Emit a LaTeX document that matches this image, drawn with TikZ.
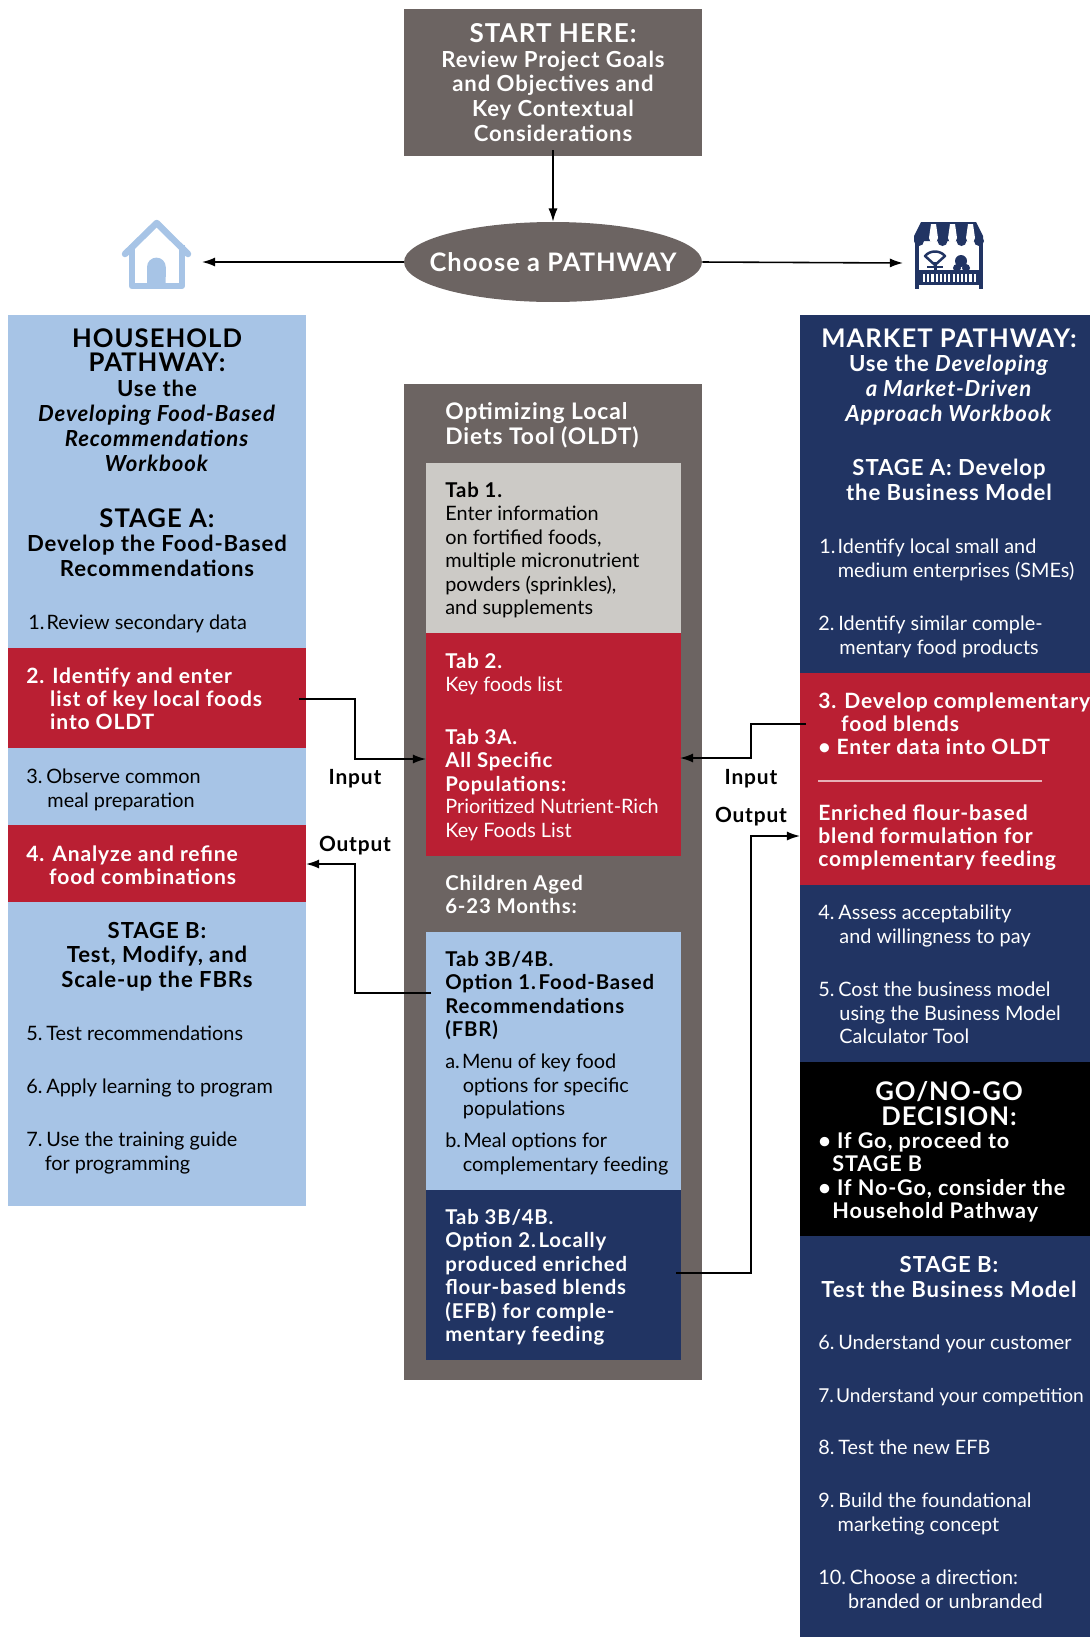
\documentclass[tikz,border=0pt]{standalone}
\usepackage{fontspec}
\setmainfont{Lato}[BoldFeatures={LetterSpace=4},BoldItalicFeatures={LetterSpace=4}]
\usetikzlibrary{shapes.geometric, arrows.meta}
\definecolor{slategrey}{HTML}{6C6462}
\definecolor{tabgrey}{HTML}{CCCAC6}
\definecolor{hhblue}{HTML}{A7C4E6}
\definecolor{mkblue}{HTML}{213463}
\definecolor{keyred}{HTML}{BA1F33}
\newcommand{\numgap}{\hspace{2.2pt}}
\begin{document}
\begin{tikzpicture}[x=0.02cm, y=-0.02cm]
\tikzset{band/.style={anchor=north west, inner sep=0pt, outer sep=0pt, draw=none},
  link/.style={draw, -{Latex[length=7.5pt, width=5.2pt]}, line width=0.9pt},
  bighead/.style={inner sep=0pt, align=center, anchor=north, font=\fontsize{14.6}{14}\selectfont\bfseries},
  midhead/.style={inner sep=0pt, align=center, anchor=north, font=\fontsize{12.6}{14.2}\selectfont\bfseries},
  boldline/.style={inner sep=0pt, align=left, anchor=north west, font=\fontsize{11.6}{13.35}\selectfont\bfseries},
  sidebold/.style={boldline, text=white, font=\fontsize{12}{13.35}\selectfont\bfseries},
  plainline/.style={inner sep=0pt, align=left, anchor=north west, font=\fontsize{11.3}{13.35}\selectfont},
  sidelabel/.style={inner sep=0pt, font=\fontsize{11.9}{13}\selectfont\bfseries}}
\useasboundingbox (0,0) rectangle (1090,1637);
\node[draw=none, fill=slategrey, text=white, minimum width=5.96cm, minimum height=2.94cm, inner sep=0pt, align=center, font=\fontsize{12.6}{14}\selectfont\bfseries] (startBox) at (553,82.5) {{\fontsize{14.8}{14}\selectfont START HERE:}\\Review Project Goals\\and Objectives and\\Key Contextual\\Considerations};
\node[ellipse, fill=slategrey, minimum width=5.96cm, minimum height=1.6cm, inner sep=0pt] (chooseOval) at (553,262) {};
\node[inner sep=0pt, text=white, font=\fontsize{14.5}{16}\selectfont\bfseries] (chooseText) at (553,262) {Choose a PATHWAY};
\node[band, fill=hhblue, minimum width=5.96cm, minimum height=6.66cm] (hhTop) at (8,315) {};
\node[band, fill=keyred, minimum width=5.96cm, minimum height=2cm] (hhRedA) at (8,648) {};
\node[band, fill=hhblue, minimum width=5.96cm, minimum height=1.54cm] (hhObserve) at (8,748) {};
\node[band, fill=keyred, minimum width=5.96cm, minimum height=1.54cm] (hhRedB) at (8,825) {};
\node[band, fill=hhblue, minimum width=5.96cm, minimum height=6.08cm] (hhRest) at (8,902) {};
\node[band, fill=mkblue, minimum width=5.8cm, minimum height=7.16cm] (mkTop) at (800,315) {};
\node[band, fill=keyred, minimum width=5.8cm, minimum height=4.24cm] (mkRed) at (800,673) {};
\node[band, fill=mkblue, minimum width=5.8cm, minimum height=3.54cm] (mkCost) at (800,885) {};
\node[band, fill=black, minimum width=5.8cm, minimum height=3.48cm] (mkGo) at (800,1062) {};
\node[band, fill=mkblue, minimum width=5.8cm, minimum height=8.02cm] (mkRest) at (800,1236) {};
\node[band, fill=slategrey, minimum width=5.96cm, minimum height=19.92cm] (oldtBox) at (404,384) {};
\node[band, fill=tabgrey, minimum width=5.1cm, minimum height=3.4cm] (tabOne) at (426,463) {};
\node[band, fill=keyred, minimum width=5.1cm, minimum height=4.46cm] (tabRed) at (426,633) {};
\node[band, fill=hhblue, minimum width=5.1cm, minimum height=5.16cm] (tabBlue) at (426,932) {};
\node[band, fill=mkblue, minimum width=5.1cm, minimum height=3.4cm] (tabNavy) at (426,1190) {};
\coordinate (houseEnd) at (202,262);
\coordinate (storeEnd) at (903,263);
\coordinate (hhOutA) at (299,699);
\coordinate (midL) at (355,759);
\coordinate (tabInL) at (426,759);
\coordinate (tabOutL) at (431,993);
\coordinate (midLo) at (355,864);
\coordinate (hhInB) at (306,864);
\coordinate (mkOutA) at (806,724);
\coordinate (midR) at (751,758);
\coordinate (tabInR) at (680,758);
\coordinate (tabOutR) at (676,1273);
\coordinate (midRo) at (751,836);
\coordinate (mkIn) at (800,836);
\draw[link] ([yshift=3.4pt]startBox.south) -- (chooseOval.north);
\draw[link] (chooseOval.west) -- (houseEnd);
\draw[link] (chooseOval.east) -- (storeEnd);
\draw[link] (hhOutA) -| (midL) -- (tabInL);
\draw[link] (tabOutL) -| (midLo) -- (hhInB);
\draw[link] (mkOutA) -| (midR) -- (tabInR);
\draw[link] (tabOutR) -| (midRo) -- (mkIn);
\draw[hhblue, line width=0.13cm, line cap=round, line join=round] (125,254) -- (156.7,223) -- (188,254);
\draw[hhblue, line width=0.12cm, line join=round] (131.7,245) -- (131.7,286) -- (182,286) -- (182,245);
\fill[hhblue] (147,286) -- (147,267) arc (180:360:9.4) -- (165.7,286) -- cycle;
\fill[mkblue] (921,222) -- (976,222) -- (983,236) -- (983,241) -- (914,241) -- (914,236) -- cycle;
\fill[mkblue] (919,241) circle (5);
\fill[mkblue] (942.5,241) circle (5);
\fill[mkblue] (961.5,241) circle (5);
\fill[mkblue] (979,241) circle (5);
\fill[white] (931,224) -- (936,224) -- (938,238) arc (0:180:4.5) -- cycle;
\fill[white] (950,224) -- (955,224) -- (957,238) arc (0:180:4.5) -- cycle;
\fill[white] (968,224) -- (973,224) -- (975,238) arc (0:180:4.5) -- cycle;
\fill[mkblue] (915,240) rectangle (919,289);
\fill[mkblue] (979,240) rectangle (983,289);
\fill[mkblue] (915,270) rectangle (983,285);
\draw[white, line width=0.16cm, dash pattern=on 1.2pt off 1.2pt] (923,278) -- (977,278);
\draw[mkblue, line width=0.05cm, line join=round] (925,256) .. controls (930,250) and (940,250) .. (945,256) -- (935,265) -- cycle;
\draw[mkblue, line width=0.06cm] (935,262) -- (935,271);
\draw[mkblue, line width=0.05cm] (927,267) -- (943,267);
\fill[mkblue] (961,261) circle (6);
\fill[mkblue] (957,268) circle (4);
\fill[mkblue] (966,268) circle (4);
\node[bighead] (hhTitle) at (157,328) {HOUSEHOLD\\PATHWAY:};
\node[midhead] (hhUse) at (157,380) {Use the\\\textit{Developing Food-Based}\\\textit{Recommendations}\\\textit{Workbook}};
\node[bighead] (hhStageA) at (157,508) {STAGE A:};
\node[midhead] (hhDevelop) at (157,535) {Develop the Food-Based\\Recommendations};
\node[plainline] (hhOne) at (28,615) {1.\hspace{1.2pt}Review secondary data};
\node[sidebold] (hhTwo) at (26,667) {2. Identify and enter\\\hspace*{13.6pt}list of key local foods\\\hspace*{13.6pt}into OLDT};
\node[plainline] (hhThree) at (26,769) {3.\numgap Observe common\\\hspace*{12pt}meal preparation};
\node[sidebold] (hhFour) at (26,845) {4. Analyze and refine\\\hspace*{13pt}food combinations};
\node[midhead] (hhStageB) at (157,921.5) {STAGE B:\\Test, Modify, and\\Scale-up the FBRs};
\node[plainline] (hhFive) at (26,1026) {5.\numgap Test recommendations};
\node[plainline] (hhSix) at (26,1079) {6.\numgap Apply learning to program};
\node[plainline] (hhSeven) at (26,1132) {7.\numgap Use the training guide\\\hspace*{10.5pt}for programming};
\node[midhead, align=left, anchor=north west, text=white, font=\fontsize{13}{14.2}\selectfont\bfseries] (oldtTitle) at (445,402) {Optimizing Local\\Diets Tool (OLDT)};
\node[boldline] (tabOneHead) at (445,482) {Tab 1.};
\node[plainline] (tabOneText) at (445,506) {Enter information\\on fortified foods,\\multiple micronutrient\\powders (sprinkles),\\and supplements};
\node[boldline, text=white] (tabTwoHead) at (445,653) {Tab 2.};
\node[plainline, text=white] (tabTwoText) at (445,677) {Key foods list};
\node[boldline, text=white] (tabThreeHead) at (445,729) {Tab 3A.\\All Specific\\Populations:};
\node[plainline, text=white] (tabThreeText) at (445,799) {Prioritized Nutrient-Rich\\Key Foods List};
\node[boldline, text=white] (childHead) at (445,875) {Children Aged\\6-23 Months:};
\node[boldline] (optOneHead) at (445,951) {Tab 3B/4B.\\Option 1.\hspace{1.5pt}Food-Based\\Recommendations\\(FBR)};
\node[plainline] (optOneA) at (445,1054) {a.\hspace{1.2pt}Menu of key food\\\hspace*{10pt}options for specific\\\hspace*{10pt}populations};
\node[plainline] (optOneB) at (445,1133) {b.\hspace{1.2pt}Meal options for\\\hspace*{10pt}complementary feeding};
\node[boldline, text=white] (optTwoHead) at (445,1209) {Tab 3B/4B.\\Option 2.\hspace{1.5pt}Locally\\produced enriched\\flour-based blends\\(EFB) for comple-\\mentary feeding};
\node[bighead, text=white] (mkTitle) at (949,329) {MARKET PATHWAY:};
\node[midhead, text=white] (mkUse) at (949,355) {Use the \textit{Developing}\\\textit{a Market-Driven}\\\textit{Approach Workbook}};
\node[midhead, text=white] (mkStageA) at (949,459) {STAGE A: Develop\\the Business Model};
\node[plainline, text=white] (mkOne) at (819,539) {1.\hspace{1.2pt}Identify local small and\\\hspace*{10.5pt}medium enterprises (SMEs)};
\node[plainline, text=white] (mkTwo) at (818,616) {2.\numgap Identify similar comple-\\\hspace*{12pt}mentary food products};
\node[sidebold] (mkThree) at (818,692) {3. Develop complementary\\\hspace*{13pt}food blends\\• Enter data into OLDT};
\node[sidebold] (mkEnriched) at (818,804) {Enriched flour-based\\blend formulation for\\complementary feeding};
\node[plainline, text=white] (mkFour) at (818,905) {4.\numgap Assess acceptability\\\hspace*{12pt}and willingness to pay};
\node[plainline, text=white] (mkFive) at (818,982) {5.\numgap Cost the business model\\\hspace*{12pt}using the Business Model\\\hspace*{12pt}Calculator Tool};
\node[bighead, text=white] (mkGoHead) at (949,1081) {GO/NO-GO\\DECISION:};
\node[sidebold, font=\fontsize{12.3}{13.35}\selectfont\bfseries] (mkGoText) at (818,1132) {• If Go, proceed to\\\hspace*{8pt}STAGE B\\• If No-Go, consider the\\\hspace*{8pt}Household Pathway};
\node[midhead, text=white] (mkStageB) at (949,1256) {STAGE B:\\Test the Business Model};
\node[plainline, text=white] (mkSix) at (818,1335) {6.\numgap Understand your customer};
\node[plainline, text=white, font=\fontsize{10.9}{13.35}\selectfont] (mkSeven) at (818,1388) {7.\hspace{1.2pt}Understand your competition};
\node[plainline, text=white] (mkEight) at (818,1440) {8.\numgap Test the new EFB};
\node[plainline, text=white] (mkNine) at (818,1493) {9.\numgap Build the foundational\\\hspace*{11pt}marketing concept};
\node[plainline, text=white] (mkTen) at (818,1570) {10.\numgap Choose a direction:\\\hspace*{17pt}branded or unbranded};
\coordinate (ruleL) at (818,781);
\coordinate (ruleR) at (1042,781);
\draw[keyred!35!white, line width=0.7pt] (ruleL) -- (ruleR);
\node[sidelabel] (inputL) at (355,779) {Input};
\node[sidelabel] (outputL) at (355,846) {Output};
\node[sidelabel] (inputR) at (751,779) {Input};
\node[sidelabel] (outputR) at (751,816.5) {Output};
\end{tikzpicture}
\end{document}
